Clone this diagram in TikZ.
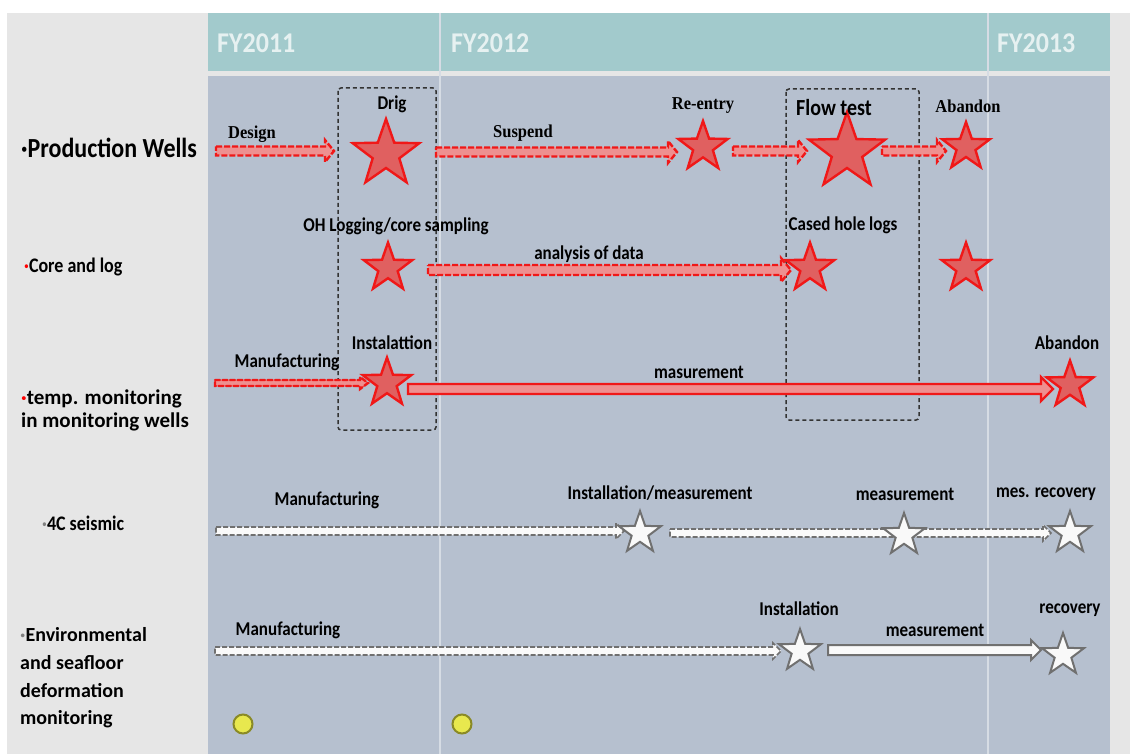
\documentclass[tikz,border=0pt]{standalone}
\usepackage{fontspec}
\setmainfont{Carlito}
\newfontfamily\tnr{Liberation Serif}
\usetikzlibrary{shapes.geometric,calc}
\definecolor{hdr}{HTML}{A2CACC}
\definecolor{bodyc}{HTML}{B6C0CF}
\definecolor{side}{HTML}{E6E6E6}
\definecolor{redline}{HTML}{F01818}
\definecolor{redfill}{HTML}{E06060}
\definecolor{pinkfill}{HTML}{EE9090}
\definecolor{grayline}{HTML}{707070}
\definecolor{hdrtext}{HTML}{E6F1F1}
\definecolor{divc}{HTML}{D6DCE4}
\definecolor{dotfill}{HTML}{E8E84E}
\definecolor{dotline}{HTML}{8A8A26}
\newcommand\vs[1]{\scalebox{1}[1.15]{#1}}
\newcommand\blockarrow[6]{%
  \path[#1] let \p1=(#2), \p2=(#3) in
   (\x1,\y1+#4) -- (\x2-#6,\y1+#4) -- (\x2-#6,\y1+#5) -- (\x2,\y1)
   -- (\x2-#6,\y1-#5) -- (\x2-#6,\y1-#4) -- (\x1,\y1-#4) -- cycle;}
\begin{document}
\begin{tikzpicture}[x=1pt,y=-1pt,
  redstar/.style={star, star points=5, star point ratio=2.5, draw=redline, fill=redfill,
     line width=2.4pt, inner sep=0pt, minimum size=#1},
  whstar/.style={star, star points=5, star point ratio=2.5, draw=grayline, fill=white!95!gray,
     line width=2pt, inner sep=0pt, minimum size=#1},
  reddash/.style={draw=redline, fill=pinkfill, line width=2.4pt, dash pattern=on 6pt off 2pt},
  redthin/.style={draw=redline, fill=pinkfill, line width=2.4pt, dash pattern=on 5pt off 2.5pt, line cap=round},
  redsolid/.style={draw=redline, fill=pinkfill, line width=2.4pt},
  graydash/.style={draw=grayline, fill=white!96!gray, line width=1.6pt, dash pattern=on 5pt off 2pt},
  graysolid/.style={draw=grayline, fill=white!96!gray, line width=2pt},
  lab/.style={font=\bfseries\fontsize{17}{19}\selectfont, inner sep=0pt},
  slab/.style={font=\tnr\bfseries\fontsize{16.5}{18}\selectfont, inner sep=0pt},
  rowlab/.style={font=\bfseries\fontsize{#1}{23}\selectfont, inner sep=0pt, anchor=west, align=left},
  hdrlab/.style={font=\bfseries\fontsize{26}{28}\selectfont, text=hdrtext, inner sep=0pt, anchor=west},
  dashbox/.style={draw=black!80, line width=1.5pt, dash pattern=on 4pt off 3pt, rounded corners=3pt},
  ydot/.style={circle, fill=dotfill, draw=dotline, line width=2pt, minimum size=19pt, inner sep=0pt}]
\useasboundingbox (0,0) rectangle (1130,754);
\fill[white] (0,0) rectangle (1130,754);
\fill[side] (7,13) rectangle (1130,754);
\fill[hdr] (208,13) rectangle (1110,71);
\fill[bodyc] (208,76) rectangle (1110,754);
\draw[divc, line width=1.5pt] (440,13) -- (440,754);
\draw[divc, line width=1.5pt] (988,13) -- (988,754);
% headers
\node[hdrlab] (fy1) at (217,43) {\scalebox{1}[1.1]{FY2011}};
\node[hdrlab] (fy2) at (451,43) {\scalebox{1}[1.1]{FY2012}};
\node[hdrlab] (fy3) at (997,43) {\scalebox{1}[1.1]{FY2013}};
% row labels
\node[rowlab=24] (r1) at (21,148) {\vs{·Production Wells}};
\node[rowlab=18] (r2) at (24,267) {\vs{{\color{red}·}Core and log}};
\node[rowlab=21, font=\bfseries\fontsize{21}{23}\selectfont] (r3) at (21,410) {{\color{red}·}temp. monitoring\\in monitoring wells};
\node[rowlab=18] (r4) at (42,523) {\vs{{\color{gray}·}4C seismic}};
\node[rowlab=20, font=\bfseries\fontsize{20}{27.7}\selectfont] (r5) at (20,678) {{\color{gray}·}Environmental\\and seafloor\\deformation\\monitoring};
% dashed boxes
\draw[dashbox] (338,88) rectangle (436,430);
\draw[dashbox] (786,89) rectangle (919,420);
% coordinates for arrows
\coordinate (a1s) at (216,151); \coordinate (a1e) at (334,151);
\coordinate (a2s) at (436,152); \coordinate (a2e) at (677,152);
\coordinate (a3s) at (733,151); \coordinate (a3e) at (807,151);
\coordinate (a4s) at (882,151); \coordinate (a4e) at (946,151);
\coordinate (b1s) at (428,270); \coordinate (b1e) at (791,270);
\coordinate (c1s) at (215,383); \coordinate (c1e) at (368,383);
\coordinate (c2s) at (408,389); \coordinate (c2e) at (1053,389);
\coordinate (d1s) at (216,531); \coordinate (d1e) at (624,531);
\coordinate (d2s) at (670,533); \coordinate (d2e) at (1051,533);
\coordinate (e1s) at (215,651); \coordinate (e1e) at (781,651);
\coordinate (e2s) at (828,650); \coordinate (e2e) at (1041,650);
% arrows
\blockarrow{reddash}{a1s}{a1e}{4.5pt}{11pt}{9pt}
\blockarrow{reddash}{a2s}{a2e}{4.5pt}{11pt}{9pt}
\blockarrow{reddash}{a3s}{a3e}{4.5pt}{11pt}{9pt}
\blockarrow{reddash}{a4s}{a4e}{4.5pt}{11pt}{9pt}
\blockarrow{reddash}{b1s}{b1e}{5pt}{12pt}{10pt}
\blockarrow{redthin}{c1s}{c1e}{3pt}{6pt}{8pt}
\blockarrow{redsolid}{c2s}{c2e}{5pt}{12pt}{12pt}
\blockarrow{graydash}{d1s}{d1e}{4pt}{8pt}{8pt}
\blockarrow{graydash}{d2s}{d2e}{4pt}{8pt}{8pt}
\blockarrow{graydash}{e1s}{e1e}{4pt}{8pt}{8pt}
\blockarrow{graysolid}{e2s}{e2e}{5pt}{10pt}{10pt}
% stars
\node[redstar=70] (drig) at (386,154) {};
\node[redstar=52] (reentry) at (703,147) {};
\node[redstar=80] (flow) at (847,152) {};
\node[redstar=50] (aband1) at (966,147) {};
\node[redstar=51] (oh) at (388,268) {};
\node[redstar=51] (cased) at (810,268) {};
\node[redstar=51] (s2b) at (966,268) {};
\node[redstar=51] (inst) at (387,383) {};
\node[redstar=49] (aband2) at (1070,385) {};
\node[whstar=44] (w1) at (640,533) {};
\node[whstar=44] (w2) at (904,535) {};
\node[whstar=44] (w3) at (1070,533) {};
\node[whstar=44] (w4) at (800,651) {};
\node[whstar=44] (w5) at (1063,655) {};
% dots
\node[ydot] (dot1) at (243,724) {};
\node[ydot] (dot2) at (462,724) {};
% labels
\node[lab] (ldrig) at (392,104) {\vs{Drig}};
\node[slab] (ldesign) at (252,134) {\scalebox{1}[1.1]{Design}};
\node[slab] (lsusp) at (523,133) {\scalebox{1}[1.1]{Suspend}};
\node[slab] (lre) at (703,106) {\scalebox{1}[1.1]{Re-entry}};
\node[lab, font=\bfseries\fontsize{20}{22}\selectfont] (lflow) at (834,108) {\vs{Flow test}};
\node[slab] (lab1) at (968,106) {\scalebox{1}[1.1]{Abandon}};
\node[lab] (loh) at (396,226) {\vs{OH Logging/core sampling}};
\node[lab] (lana) at (589,254) {\vs{analysis of data}};
\node[lab] (lcased) at (843,225) {\vs{Cased hole logs}};
\node[lab] (lman1) at (287,362) {\vs{Manufacturing}};
\node[lab] (linst) at (392,343) {\vs{Instalattion}};
\node[lab] (lmas) at (699,372) {\vs{masurement}};
\node[lab] (lab2) at (1067,343) {\vs{Abandon}};
\node[lab] (lman2) at (327,500) {\vs{Manufacturing}};
\node[lab] (lim) at (660,493) {\vs{Installation/measurement}};
\node[lab] (lmeas1) at (905,494) {\vs{measurement}};
\node[lab] (lmes) at (1046,494) {\vs{mes. recovery}};
\node[lab] (lman3) at (288,630) {\vs{Manufacturing}};
\node[lab] (linst2) at (799,609) {\vs{Installation}};
\node[lab] (lmeas2) at (935,630) {\vs{measurement}};
\node[lab] (lrec) at (1070,610) {\vs{recovery}};
\end{tikzpicture}
\end{document}
